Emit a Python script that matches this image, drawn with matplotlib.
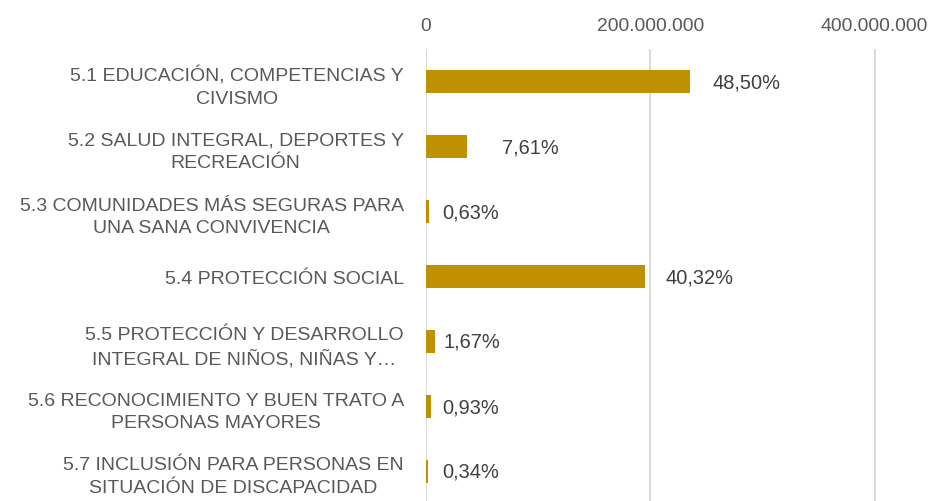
import matplotlib
matplotlib.use("Agg")
import matplotlib.pyplot as plt
from matplotlib.ticker import FuncFormatter

categories = [
    "5.1 EDUCACIÓN, COMPETENCIAS Y\nCIVISMO",
    "5.2 SALUD INTEGRAL, DEPORTES Y\nRECREACIÓN",
    "5.3 COMUNIDADES MÁS SEGURAS PARA\nUNA SANA CONVIVENCIA",
    "5.4 PROTECCIÓN SOCIAL",
    "5.5 PROTECCIÓN Y DESARROLLO\nINTEGRAL DE NIÑOS, NIÑAS Y…",
    "5.6 RECONOCIMIENTO Y BUEN TRATO A\nPERSONAS MAYORES",
    "5.7 INCLUSIÓN PARA PERSONAS EN\nSITUACIÓN DE DISCAPACIDAD",
]
values = [235.0e6, 36.6e6, 3.05e6, 195.5e6, 8.1e6, 4.5e6, 1.65e6]
pct_labels = ["48,50%", "7,61%", "0,63%", "40,32%", "1,67%", "0,93%", "0,34%"]
xticks = [0, 200e6, 400e6]

plt.rcParams["font.family"] = ["Liberation Sans", "DejaVu Sans"]

W, H = 932, 502
fig = plt.figure(figsize=(W / 100, H / 100), dpi=100)
left_px, top_px, right_px, bottom_px = 426, 50, 932, 505
ax = fig.add_axes([left_px / W, 1 - bottom_px / H, (right_px - left_px) / W, (bottom_px - top_px) / H])

ypos = list(range(len(categories)))
ax.barh(ypos, values, height=0.34, color="#BF9000", zorder=3)
ax.set_ylim(len(categories) - 0.5, -0.5)
ax.set_xlim(0, 200e6 * (right_px - left_px) / 224.3)

ax.set_xticks(xticks)
ax.xaxis.set_major_formatter(FuncFormatter(lambda v, p: f"{int(v):,}".replace(",", ".")))
ax.xaxis.tick_top()
ax.tick_params(axis="x", length=0, pad=11, labelsize=13.9, labelcolor="#595959")
ax.grid(axis="x", color="#D9D9D9", linewidth=1.3, zorder=0)
for s in ax.spines.values():
    s.set_visible(False)

ax.set_yticks(ypos)
ax.set_yticklabels(categories, multialignment="center", linespacing=1.45)
ax.tick_params(axis="y", length=0, pad=16, labelsize=14, labelcolor="#595959")

# label offsets in pixels from bar end
offsets_px = [23, 35, 13, 20, 8, 11, 14]
for y, v, lab, off in zip(ypos, values, pct_labels, offsets_px):
    ax.annotate(lab, (v, y), xytext=(off * 0.72, 0), textcoords="offset points",
                va="center", ha="left", fontsize=14.4, color="#404040")

fig.savefig("out.png", dpi=100)
